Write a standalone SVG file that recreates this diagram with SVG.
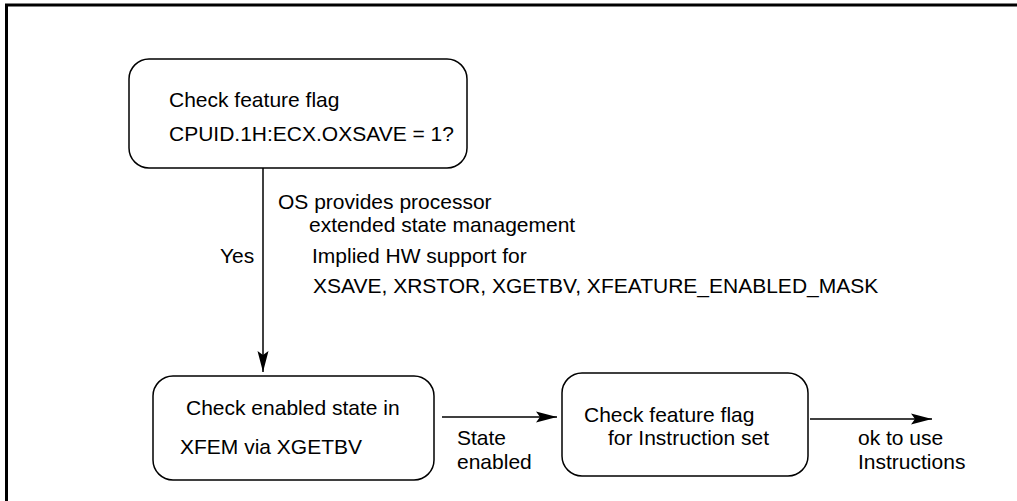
<svg xmlns="http://www.w3.org/2000/svg" width="1017" height="501" viewBox="0 0 1017 501">
<style>
.frame{fill:none;stroke:#000;stroke-width:3}
.box{fill:#fff;stroke:#000;stroke-width:1.5}
.t{font-family:"Liberation Sans",Arial,sans-serif;font-size:21px;fill:#000}
.c{stroke:#000;stroke-width:1.5;fill:none}
</style>
<defs>
<marker id="ah" markerUnits="userSpaceOnUse" markerWidth="22" markerHeight="12" refX="21" refY="6" orient="auto">
<path d="M0,0.5 L21,6 L0,11.5 L4,6 Z" fill="#000"/>
</marker>
</defs>
<rect class="frame" x="6.5" y="5" width="1100" height="600"/>
<g id="connectors">
<line class="c" x1="263" y1="168" x2="263" y2="372" marker-end="url(#ah)"/>
<line class="c" x1="442" y1="417" x2="557" y2="417" marker-end="url(#ah)"/>
<line class="c" x1="810" y1="419" x2="932" y2="419" marker-end="url(#ah)"/>
<text class="t" x="220" y="263">Yes</text>
<text class="t" x="278" y="209">OS provides processor</text>
<text class="t" x="309" y="232">extended state management</text>
<text class="t" x="312" y="263">Implied HW support for</text>
<text class="t" x="313" y="293">XSAVE, XRSTOR, XGETBV, XFEATURE_ENABLED_MASK</text>
<text class="t" x="457" y="445">State</text>
<text class="t" x="457" y="469">enabled</text>
<text class="t" x="858" y="445">ok to use</text>
<text class="t" x="858" y="469">Instructions</text>
</g>
<g id="check-osxsave">
<rect class="box" x="129" y="59" width="338" height="109" rx="20" ry="20"/>
<text class="t" x="169" y="107">Check feature flag</text>
<text class="t" x="169" y="141">CPUID.1H:ECX.OXSAVE = 1?</text>
</g>
<g id="check-xfem">
<rect class="box" x="153" y="376" width="281" height="104" rx="20" ry="20"/>
<text class="t" x="186" y="415">Check enabled state in</text>
<text class="t" x="180" y="454">XFEM via XGETBV</text>
</g>
<g id="check-instruction">
<rect class="box" x="562" y="373" width="246" height="103" rx="20" ry="20"/>
<text class="t" x="584" y="422">Check feature flag</text>
<text class="t" x="608" y="445">for Instruction set</text>
</g>
</svg>
